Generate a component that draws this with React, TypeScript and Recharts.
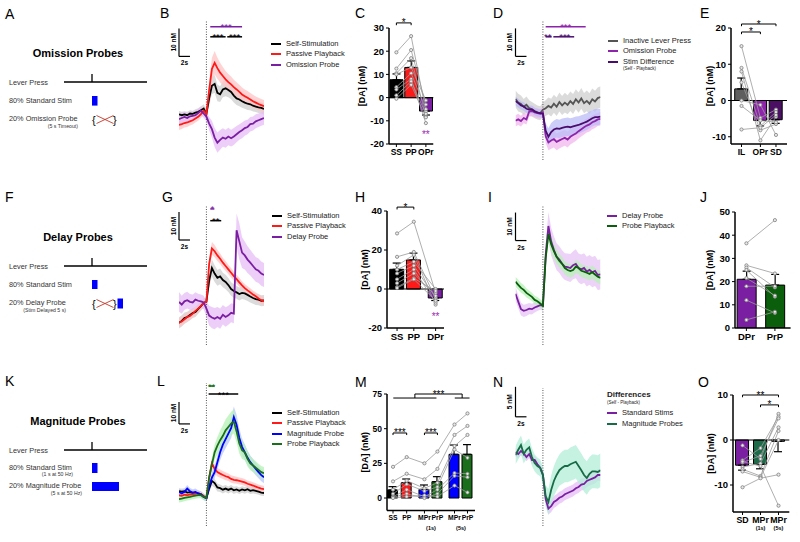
import React from "react";
import {
  Area,
  Bar,
  Cell,
  ComposedChart,
  ErrorBar,
  Legend,
  Line,
  ReferenceDot,
  ReferenceLine,
  XAxis,
  YAxis,
} from "recharts";

const FONT = "'Liberation Sans', Arial, Helvetica, sans-serif";

// time from lever press (s), shared by every photometry trace
const time = [-5, -4.5, -4, -3.5, -3, -2.5, -2, -1.5, -1, -0.5, 0, 0.5, 1, 1.5, 2, 2.5, 3, 3.5, 4, 4.5, 5, 5.5, 6, 6.5, 7, 7.5, 8, 8.5, 9, 9.5, 10, 10.5];

// B - omission probes (nM)
const bSelf = [0.3, 0, 0.3, 0, 0.6, 0.5, 0.9, 1.2, 1.8, 2.4, 0.5, 6, 10.5, 11.2, 8, 7.5, 9.2, 9.6, 9, 8.3, 7, 6, 5.6, 5, 4.5, 4.1, 3.9, 3.4, 3.1, 2.8, 2.6, 2.2];
const bSelfSem = [1.2, 1.2, 1.1, 1.2, 1.2, 1.1, 1.2, 1.3, 1.4, 1.5, 1.5, 2.5, 3, 3.2, 3, 2.8, 2.8, 2.8, 2.6, 2.6, 2.5, 2.4, 2.4, 2.3, 2.2, 2.2, 2.1, 2.1, 2, 2, 2, 2];
const bPass = [-3.5, -3.2, -2.8, -2.6, -2.2, -1.8, -1.2, -0.6, 0.4, 1.6, 0.5, 9, 16.5, 18.7, 16.8, 15.2, 14, 12.8, 11.8, 11, 10, 9.2, 8.3, 7.4, 6.8, 6.2, 5.6, 5, 4.5, 4, 3.6, 3.2];
const bPassSem = [1.8, 1.7, 1.6, 1.6, 1.5, 1.5, 1.4, 1.4, 1.4, 1.5, 1.6, 3, 4, 4.2, 3.8, 3.5, 3.2, 3, 2.9, 2.8, 2.7, 2.6, 2.6, 2.5, 2.4, 2.4, 2.3, 2.3, 2.2, 2.2, 2.2, 2.2];
const bOmit = [-1.4, -1, -0.6, -1, -0.4, -0.2, 0, 0.8, 1.6, 0.6, -0.5, -3, -5, -8, -9.8, -8.8, -8, -8.4, -7.6, -8.2, -7.6, -6.8, -6, -5.4, -4.6, -4.2, -3.2, -3, -2.2, -1.8, -1.4, -1];
const bOmitSem = [1.8, 1.8, 1.7, 1.7, 1.6, 1.6, 1.5, 1.5, 1.5, 1.5, 1.6, 2.4, 3, 3.4, 3.6, 3.5, 3.3, 3.2, 3.1, 3, 3, 2.9, 2.8, 2.8, 2.7, 2.6, 2.6, 2.5, 2.5, 2.4, 2.4, 2.4];

// D - inactive lever / omission / stim difference
const dInact = [5.3, 4, 3.5, 2.5, 3.2, 2, 1.6, 1, 0.5, 0.2, 1.5, 2, 2.8, 2.2, 3.6, 2.5, 4.2, 3, 4, 3.2, 4.5, 3.5, 5.2, 4, 5.5, 3.8, 4.6, 3.6, 5.2, 4.4, 5.6, 6];
const dInactSem = [3, 3.2, 3, 2.8, 3, 2.8, 2.6, 2.6, 2.5, 2.5, 2.6, 2.8, 3, 3.2, 3.2, 3.3, 3.4, 3.4, 3.5, 3.4, 3.5, 3.6, 3.6, 3.6, 3.7, 3.6, 3.7, 3.7, 3.8, 3.8, 3.8, 3.8];
const dOmit = [-2.5, -2, -2.6, -1.5, -2, 0.8, 1, 0.5, 0.2, 0, 0.5, -8, -10.2, -9.5, -9, -10, -9.5, -9, -8.6, -9.2, -8.2, -7.6, -7, -6.2, -5.5, -4.8, -4.2, -3.8, -3, -2.6, -2, -1.8];
const dOmitSem = [2, 2, 1.9, 1.9, 1.8, 1.8, 1.8, 1.7, 1.7, 1.7, 1.8, 2.4, 2.8, 3, 3, 3, 2.9, 2.9, 2.8, 2.8, 2.8, 2.7, 2.7, 2.6, 2.6, 2.6, 2.5, 2.5, 2.5, 2.5, 2.4, 2.4];
const dDiff = [4.6, 3.8, 3, 2.6, 1.8, 1.5, 1.6, 0.8, 0.4, 0.2, 0, -6, -8.2, -6.5, -5.6, -5.2, -5.4, -5, -4.8, -4.6, -4.8, -4.5, -4.2, -4, -3.6, -3.2, -2.8, -2.2, -1.6, -1.2, -1.2, -1];
const dDiffSem = [1.6, 1.6, 1.5, 1.5, 1.5, 1.5, 1.4, 1.4, 1.4, 1.4, 1.5, 2.6, 3, 3.2, 3.2, 3.3, 3.3, 3.3, 3.3, 3.3, 3.2, 3.2, 3.2, 3.1, 3.1, 3, 3, 3, 2.9, 2.9, 2.9, 2.8];

// G - delay probes
const gSelf = [-7.1, -6.4, -5.4, -5, -4.3, -3.6, -3.2, -2.1, -1.1, 0, 0.5, 8, 12.5, 10.5, 9, 9.5, 8.2, 7.5, 6.4, 5, 4.3, 3.8, 3.2, 3.6, 3.4, 2.9, 2.3, 1.8, 1.4, 1.2, 0.8, 0.9];
const gSelfSem = [2, 2, 2, 1.9, 1.9, 1.8, 1.8, 1.7, 1.7, 1.6, 1.6, 2.5, 3, 3, 2.8, 2.8, 2.6, 2.6, 2.5, 2.4, 2.4, 2.3, 2.3, 2.2, 2.2, 2.2, 2.1, 2.1, 2.1, 2, 2, 2];
const gPass = [-7, -6.6, -5.8, -5, -4.6, -3.8, -2.8, -2, -1, 0, 0.5, 14, 19.5, 18.5, 17, 15.8, 14.4, 13.2, 12, 10.8, 9.6, 8.5, 7.4, 6.3, 5.3, 4.5, 3.8, 3, 2.4, 1.6, 1, 0.6];
const gPassSem = [1.6, 1.6, 1.5, 1.5, 1.5, 1.4, 1.4, 1.4, 1.3, 1.3, 1.4, 2, 2.3, 2.2, 2, 1.9, 1.8, 1.8, 1.7, 1.7, 1.6, 1.6, 1.6, 1.5, 1.5, 1.5, 1.5, 1.5, 1.4, 1.4, 1.4, 1.4];
const gDelay = [0.4, -0.6, 0.6, 1, 0.4, 0.2, 1.2, 0.8, 0.6, 0.2, -2, -4.5, -5.2, -5.6, -5, -5.6, -4.2, -5, -4.4, -3.5, -3.8, 26, 22, 18, 17, 15.5, 14.4, 13.2, 12, 11.5, 10.5, 10];
const gDelaySem = [3.5, 3.2, 3, 3, 2.8, 2.8, 2.6, 2.5, 2.4, 2.4, 2.8, 3.5, 3.8, 3.8, 3.6, 3.6, 3.5, 3.5, 3.4, 3.4, 3.4, 6, 6.5, 5.5, 5, 4.8, 4.6, 4.5, 4.4, 4.4, 4.3, 4.3];

// I - delay probe vs probe playback
const iDelay = [4.3, 1.5, -1.2, -1.8, -1.5, -1, -1.2, -0.6, -0.2, 0.2, 0, 18, 28.5, 23, 20, 17.5, 16.5, 15, 14, 13.8, 13.5, 14.5, 15, 13.5, 13, 13.5, 12.2, 12.8, 12, 12.5, 11, 11.2];
const iDelaySem = [2.5, 2.4, 2.3, 2.2, 2.1, 2, 1.9, 1.8, 1.7, 1.6, 1.8, 4, 5, 5, 4.8, 4.8, 4.8, 4.8, 4.8, 4.9, 5, 5, 5.2, 5.2, 5.3, 5.3, 5.3, 5.3, 5.4, 5.4, 5.4, 5.4];
const iPlay = [8.6, 7.5, 6.4, 5.7, 4.6, 3.9, 3.2, 2.1, 1.6, 0.8, 0, 17, 25.7, 22, 19.5, 17.5, 16, 15, 13.5, 12.8, 12.4, 12.8, 14, 13.5, 12.5, 12.2, 11.8, 11.4, 12, 11.2, 10.4, 10];
const iPlaySem = [1.8, 1.8, 1.7, 1.7, 1.6, 1.6, 1.5, 1.5, 1.5, 1.5, 1.6, 2.5, 3, 2.8, 2.6, 2.5, 2.4, 2.4, 2.3, 2.3, 2.3, 2.3, 2.3, 2.3, 2.3, 2.3, 2.3, 2.3, 2.3, 2.3, 2.3, 2.3];

// L - magnitude probes
const lSelf = [1.8, 1.6, 1.8, 1.2, 1.4, 1, 1.2, 0.8, 0.5, -0.5, -1.3, 3, 6.5, 5.5, 3.5, 3.2, 2.5, 3, 2.4, 3, 2.2, 2.6, 2, 2.6, 2.2, 2.7, 2, 2.3, 2, 1.6, 1.2, 1];
const lSelfSem = [1.4, 1.4, 1.4, 1.3, 1.3, 1.3, 1.3, 1.2, 1.2, 1.2, 1.2, 1.8, 2.2, 2, 1.8, 1.7, 1.7, 1.6, 1.6, 1.6, 1.6, 1.5, 1.5, 1.5, 1.5, 1.5, 1.5, 1.5, 1.4, 1.4, 1.4, 1.4];
const lPass = [0, -0.3, 0.2, 0, 0.3, 0.5, 0.6, 0.8, 0.5, -0.5, -1.2, 8, 14.5, 12, 10.5, 9.8, 9.2, 8.6, 8.2, 7.4, 7, 6.8, 6.5, 6.2, 5.8, 5.2, 4.8, 4.4, 3.9, 3.4, 3, 2.8];
const lPassSem = [1.4, 1.4, 1.3, 1.3, 1.3, 1.3, 1.2, 1.2, 1.2, 1.2, 1.2, 2, 2.4, 2.2, 2, 1.9, 1.8, 1.8, 1.7, 1.7, 1.7, 1.6, 1.6, 1.6, 1.6, 1.5, 1.5, 1.5, 1.5, 1.5, 1.5, 1.5];
const lMag = [1.4, 0.8, 1.5, 3, 1.8, 1.2, 1.5, 0.8, 0.3, -0.8, -1.4, 4, 8, 10.5, 15, 19.5, 23, 25.5, 28, 30.5, 35.5, 32, 26, 22, 19.5, 17, 15, 13.5, 12, 10.5, 9.1, 8.2];
const lMagSem = [1.6, 1.6, 1.6, 1.6, 1.5, 1.5, 1.5, 1.5, 1.5, 1.5, 1.5, 2, 2.4, 2.8, 3.2, 3.6, 4, 4.2, 4.4, 4.6, 4.8, 4.6, 4.2, 3.8, 3.5, 3.3, 3.1, 3, 2.9, 2.8, 2.8, 2.8];
const lPlay = [-1.8, -1.6, -1.2, -1, -0.8, -0.4, -0.2, 0, 0, -0.8, -1.3, 8, 14, 19.5, 22.5, 25, 27, 29.5, 31, 32.5, 33.5, 29, 23.5, 20.5, 19.5, 16.5, 14.5, 13.5, 12.5, 11.5, 10.5, 10];
const lPlaySem = [1.5, 1.5, 1.5, 1.4, 1.4, 1.4, 1.4, 1.4, 1.4, 1.4, 1.5, 2.5, 3, 3.5, 4, 4.4, 4.8, 5, 5.2, 5.4, 5.5, 5, 4.5, 4, 3.6, 3.4, 3.2, 3, 2.9, 2.8, 2.8, 2.8];

// N - differences (self - playback)
const nStd = [3.8, 3.5, 4, 3.6, 3, 3.5, 2.5, 2.5, 1.8, 1.2, 0, -4, -5.6, -5.2, -4.5, -4.2, -3.8, -3.6, -3.2, -3, -2.8, -2.6, -2.2, -2, -1.6, -1.5, -1, -0.8, -0.6, -0.4, 0, 0];
const nStdSem = [0.7, 0.7, 0.7, 0.7, 0.7, 0.7, 0.7, 0.7, 0.7, 0.7, 0.7, 0.9, 1, 1, 1, 1, 1, 1, 1, 1, 1, 1, 1, 1, 1, 1, 1, 1, 1, 1, 1, 1];
const nMag = [3.3, 4.2, 5, 3.5, 4.2, 4.6, 3, 2, 1.5, 1.2, 0, -3.5, -4.5, -2.5, -1, 0, 0.8, 1.2, 1.5, 1.5, 1.8, 2, 2.2, 1.5, 0.8, 0, -0.5, 0.2, 0.6, 0.6, 0.5, 0.8];
const nMagSem = [1.5, 1.6, 1.6, 1.6, 1.5, 1.5, 1.5, 1.4, 1.4, 1.4, 1.4, 1.8, 2.2, 2.4, 2.5, 2.6, 2.6, 2.7, 2.7, 2.7, 2.8, 2.8, 2.8, 2.8, 2.8, 2.8, 2.8, 2.8, 2.8, 2.8, 2.8, 2.8];

// C
const cCats = ["SS", "PP", "OPr"];
const cX = [0, 1, 2];
const cMean = [7.7, 13, -5.8];
const cSem = [2.5, 2.8, 1.7];
const cSubjects = [[19.5, 26.5, -6], [12.5, 20.5, -3], [10.5, 17, -8.2], [10, 13, -1.2], [4.5, 10.5, -5], [3.5, 8, -11], [1, 7, -7], [-0.5, 5.5, -8.5]];
// E
const eCats = ["IL", "OPr", "SD"];
const eX = [0, 1.08, 1.97];
const eMean = [3.2, -5.5, -5.3];
const eSem = [3, 1.5, 1];
const eSubjects = [[15, -4.8, -2.5], [9, -7, -3.2], [8, -11, -4.5], [5, -8.2, -6.5], [0, -1.2, -9.5], [-1.5, -5.5, -6], [-8, -7.5, -4]];
// H
const hCats = ["SS", "PP", "DPr"];
const hX = [0, 1, 2.3];
const hMean = [10.1, 14.9, -4.6];
const hSem = [3.2, 3.5, 1.3];
const hSubjects = [[28.5, 34.5, -2], [16.5, 19, -5], [12, 17.5, -8], [10, 14, 0], [8, 12, -4.5], [5, 10, -7], [3, 8, -3.5], [1, 5.5, -1], [0.5, 5, -6]];
// J
const jCats = ["DPr", "PrP"];
const jX = [0, 1];
const jMean = [21, 18.5];
const jSem = [3.5, 4.6];
const jSubjects = [[36.5, 46.5], [27, 23.5], [26, 17.5], [25, 13.5], [21.5, 14], [18, 18], [12, 6.5], [3.5, 7]];
// M
const mCats = ["SS", "PP", "MPr", "PrP", "MPr", "PrP"];
const mSubs = ["", "", "(1s)", "", "(5s)", ""];
const mX = [0, 1, 2.3, 3.25, 4.5, 5.45];
const mMean = [5.8, 11, 6.2, 11.8, 31.5, 31.5];
const mSem = [2.4, 2.7, 3.2, 3.6, 6.7, 7];
const mSubjects = [[22.5, 29.5, 25, 33.5, 53, 61], [12, 17.5, 13.5, 21, 45.5, 52], [6, 12.5, 7, 11, 37.5, 45.5], [3, 10, 5, 8, 35, 29], [1, 6, 1, 6, 18, 17.5], [0.5, 3, 0, 3, 16, 15], [0, 1, 2, 1, 9, 4]];
// O
const oCats = ["SD", "MPr", "MPr"];
const oSubs = ["", "(1s)", "(5s)"];
const oX = [0, 1, 2];
const oMean = [-5.6, -5.4, -0.3];
const oSem = [1.1, 1, 2.3];
const oSubjects = [[-1.2, -4.2, 5.8], [-4.5, -1.8, 5.2], [-5, -3.5, 4.8], [-6, -5.2, 2.8], [-6.5, -8, 2], [-7, -8.3, 0], [-10.5, -8.5, -7.7], [-4.8, -5.8, -14.6]];

const PURPLE = "#7b1fa2";
const RED = "#ff1a1a";

const SegLabel = (props: any) => {
  const { viewBox, text, dx = 0, dy = 0, size = 9, tint = "#000", weight = "normal", rotate = false } = props;
  if (!viewBox) return null;
  const cx = viewBox.x + (viewBox.width || 0) / 2 + dx;
  const cy = viewBox.y + (viewBox.height || 0) / 2 + dy;
  return (
    <text
      x={cx}
      y={cy}
      textAnchor="middle"
      fontSize={size}
      fontWeight={weight}
      fill={tint}
      fontFamily={FONT}
      transform={rotate ? `rotate(-90 ${cx} ${cy})` : undefined}
    >
      {text}
    </text>
  );
};

const TraceLegend = ({ payload = [], order = [], title, note, subs = {} }: any) => {
  // keep only the mean traces, in the order they were declared
  const items = order.map((name: string) => payload.find((p: any) => p.value === name)).filter(Boolean);
  return (
    <div style={{ fontFamily: FONT, fontSize: 7.5, color: "#222", lineHeight: "10.5px" }}>
      {title && <div style={{ fontWeight: "bold", fontSize: 8, lineHeight: "8px" }}>{title}</div>}
      {note && <div style={{ fontSize: 4.5, lineHeight: "7px", marginBottom: 2 }}>{note}</div>}
      {items.map((p: any) => (
        <div key={p.value}>
          <div style={{ display: "flex", alignItems: "center", height: 10.5 }}>
            <span style={{ display: "inline-block", width: 10, height: 2, background: p.color, marginRight: 5 }} />
            <span style={{ whiteSpace: "nowrap" }}>{p.value}</span>
          </div>
          {subs[p.value] && <div style={{ fontSize: 4.5, lineHeight: "4px", marginLeft: 15 }}>{subs[p.value]}</div>}
        </div>
      ))}
    </div>
  );
};

const TracePanel = (p: any) => {
  const rows = time.map((t, i) => {
    const row: any = { t };
    p.series.forEach((s: any) => {
      row[s.key] = s.mean[i];
      row[s.key + "Band"] = [s.mean[i] - s.sem[i], s.mean[i] + s.sem[i]];
    });
    return row;
  });
  const sb = p.scaleBar;
  const order = p.series.map((s: any) => s.name);
  return (
    <div style={{ position: "absolute", left: p.left, top: p.top }}>
      <ComposedChart width={p.width} height={p.height} data={rows} margin={p.margin}>
        <XAxis type="number" dataKey="t" domain={[-5, 10.5]} hide allowDataOverflow />
        <YAxis type="number" domain={p.domain} hide allowDataOverflow />
        {p.series.map((s: any) => (
          <Area
            key={s.key + "Band"}
            type="linear"
            dataKey={s.key + "Band"}
            stroke="none"
            fill={s.band}
            fillOpacity={0.75}
            isAnimationActive={false}
            legendType="none"
            activeDot={false}
            dot={false}
          />
        ))}
        <ReferenceLine x={0} stroke="#555" strokeWidth={1} strokeDasharray="1 1.5" ifOverflow="visible" />
        {p.series.map((s: any) => (
          <Line
            key={s.key}
            type="linear"
            dataKey={s.key}
            name={s.name}
            stroke={s.color}
            strokeWidth={1.8}
            dot={false}
            activeDot={false}
            isAnimationActive={false}
            legendType="plainline"
          />
        ))}
        <ReferenceLine
          segment={[{ x: -5, y: sb.y }, { x: -5, y: sb.y + sb.len }]}
          stroke="#000"
          strokeWidth={1.2}
          ifOverflow="visible"
          label={<SegLabel text={sb.label} rotate dx={-3} size={6.5} weight="bold" />}
        />
        <ReferenceLine
          segment={[{ x: -5, y: sb.y }, { x: -3, y: sb.y }]}
          stroke="#000"
          strokeWidth={1.2}
          ifOverflow="visible"
          label={<SegLabel text="2s" dy={9} size={6.5} weight="bold" />}
        />
        {p.sig.map((g: any, i: number) => (
          <ReferenceLine
            key={"sig" + i}
            segment={[{ x: g.x1, y: g.y }, { x: g.x2, y: g.y }]}
            stroke={g.color}
            strokeWidth={1.5}
            ifOverflow="visible"
            label={<SegLabel text={g.text} dx={g.dx || 0} dy={3.5} size={9.5} tint={g.color} />}
          />
        ))}
        <Legend
          layout="vertical"
          align="center"
          verticalAlign="middle"
          wrapperStyle={{ left: p.legend.left, top: p.legend.top, width: 140, height: "auto" }}
          content={(lp: any) => (
            <TraceLegend payload={lp.payload} order={order} title={p.legend.title} note={p.legend.note} subs={p.legend.subs || {}} />
          )}
        />
      </ComposedChart>
    </div>
  );
};

const CatTick = (props: any) => {
  const { x, y, payload, xs, labels, subs, size, subSize = 5.5, subDx = 0, subDy = 14 } = props;
  const i = xs.indexOf(payload.value);
  return (
    <g>
      <text x={x} y={y + size * 0.85} textAnchor="middle" fontSize={size} fontWeight="bold" fontFamily={FONT} fill="#000">
        {labels[i]}
      </text>
      {subs && subs[i] ? (
        <text x={x + subDx} y={y + subDy} textAnchor="middle" fontSize={subSize} fontWeight="bold" fontFamily={FONT} fill="#000">
          {subs[i]}
        </text>
      ) : null}
    </g>
  );
};

const AxisTitle = (props: any) => {
  const { viewBox, shift } = props;
  if (!viewBox) return null;
  const cx = viewBox.x + shift;
  const cy = viewBox.y + viewBox.height / 2;
  return (
    <text
      x={cx}
      y={cy}
      transform={`rotate(-90 ${cx} ${cy})`}
      textAnchor="middle"
      dominantBaseline="central"
      fontSize={9}
      fontWeight="bold"
      fontFamily={FONT}
      fill="#000"
    >
      [DA] (nM)
    </text>
  );
};

const BarPanel = (p: any) => {
  const rows = p.xs.map((x: number, i: number) => {
    const row: any = { x, mean: p.means[i], err: p.means[i] >= 0 ? [0, p.sems[i]] : [p.sems[i], 0] };
    p.subjects.forEach((s: number[], k: number) => {
      row["s" + k] = s[i];
    });
    return row;
  });
  return (
    <div style={{ position: "absolute", left: p.left, top: p.top }}>
      <ComposedChart width={p.width} height={p.height} data={rows} margin={p.margin}>
        <XAxis
          type="number"
          dataKey="x"
          domain={p.xDomain}
          ticks={p.xs}
          interval={0}
          allowDataOverflow
          height={p.xAxisHeight}
          axisLine={{ stroke: "#000", strokeWidth: 1.5 }}
          tickLine={{ stroke: "#000", strokeWidth: 1 }}
          tickSize={3}
          tickMargin={1}
          tick={<CatTick xs={p.xs} labels={p.cats} subs={p.subs} size={p.catSize} subDx={p.subDx} subDy={p.subDy} />}
        />
        <YAxis
          type="number"
          domain={p.yDomain}
          ticks={p.yTicks}
          interval={0}
          allowDataOverflow
          width={40}
          axisLine={{ stroke: "#000", strokeWidth: 1.5 }}
          tickLine={{ stroke: "#000", strokeWidth: 1 }}
          tickSize={3}
          tick={{ fontSize: p.tickSize, fontWeight: "bold", fill: "#000", fontFamily: FONT }}
          label={<AxisTitle shift={p.titleShift} />}
        />
        {p.zeroLine && <ReferenceLine y={0} stroke="#000" strokeWidth={1.2} />}
        <Bar dataKey="mean" barSize={p.barSize} stroke="#000" strokeWidth={1} isAnimationActive={false}>
          {rows.map((r: any, i: number) => (
            <Cell key={i} fill={p.colors[i]} />
          ))}
          <ErrorBar dataKey="err" direction="y" width={4} stroke="#000" strokeWidth={1.2} />
        </Bar>
        {p.subjects.map((s: number[], k: number) => (
          <Line
            key={"s" + k}
            type="linear"
            dataKey={"s" + k}
            stroke="#9a9a9a"
            strokeWidth={0.8}
            dot={{ r: 1.6, fill: "#e8e8e8", stroke: "#808080", strokeWidth: 0.8 }}
            activeDot={false}
            isAnimationActive={false}
            legendType="none"
          />
        ))}
        {p.brackets.map((b: any, i: number) => [
          <ReferenceLine
            key={"bh" + i}
            segment={[{ x: b.x1, y: b.y }, { x: b.x2, y: b.y }]}
            stroke="#000"
            strokeWidth={1}
            ifOverflow="visible"
            label={b.text ? <SegLabel text={b.text} dy={3.5} size={10} tint="#000" /> : undefined}
          />,
          b.drop ? (
            <ReferenceLine key={"bl" + i} segment={[{ x: b.x1, y: b.y }, { x: b.x1, y: b.y - b.drop }]} stroke="#000" strokeWidth={1} ifOverflow="visible" />
          ) : null,
          b.drop ? (
            <ReferenceLine key={"br" + i} segment={[{ x: b.x2, y: b.y }, { x: b.x2, y: b.y - b.drop }]} stroke="#000" strokeWidth={1} ifOverflow="visible" />
          ) : null,
        ])}
        {(p.stars || []).map((s: any, i: number) => (
          <ReferenceDot
            key={"st" + i}
            x={s.x}
            y={s.y}
            r={0}
            fill="none"
            stroke="none"
            ifOverflow="visible"
            label={<SegLabel text={s.text} dy={5} size={10} tint={s.color} />}
          />
        ))}
      </ComposedChart>
    </div>
  );
};

const Protocol = ({ lever, title, stimY, stimRect, stimNote, probeY, probeText, noteText, noteRight, kind }: any) => {
  const top = probeY - 7;
  const bot = probeY + 4;
  return (
    <g fontFamily={FONT}>
      <text x={78} y={lever - 25} textAnchor="middle" fontSize={11} fontWeight="bold" fill="#000">
        {title}
      </text>
      <text x={9} y={lever + 2.5} fontSize={7.3} fill="#333">
        Lever Press
      </text>
      <line x1={64} x2={147} y1={lever} y2={lever} stroke="#000" strokeWidth={1.3} />
      <line x1={92} x2={92} y1={lever - 8} y2={lever} stroke="#000" strokeWidth={1.3} />
      <text x={9} y={stimY} fontSize={7.3} fill="#333">
        80% Standard Stim
      </text>
      {stimNote && (
        <text x={73} y={stimY + 6} fontSize={5.2} textAnchor="end" fill="#333">
          {stimNote}
        </text>
      )}
      <rect x={92} y={stimRect[0]} width={5.5} height={stimRect[1]} fill="#0000ff" />
      <text x={9} y={probeY} fontSize={7.3} fill="#333">
        {probeText}
      </text>
      <text x={noteRight} y={probeY + 6.5} fontSize={5.2} textAnchor="end" fill="#333">
        {noteText}
      </text>
      {kind === "magnitude" ? (
        <rect x={92} y={probeY - 6} width={27} height={9} fill="#0000ff" />
      ) : (
        <g>
          <text x={92} y={probeY + 3} fontSize={11} fill="#000">
            {"{"}
          </text>
          <text x={113} y={probeY + 3} fontSize={11} fill="#000">
            {"}"}
          </text>
          <line x1={96.5} y1={top + 1.5} x2={113.5} y2={bot - 1.5} stroke="#c0392b" strokeWidth={0.9} />
          <line x1={96.5} y1={bot - 1.5} x2={113.5} y2={top + 1.5} stroke="#c0392b" strokeWidth={0.9} />
          {kind === "delay" && <rect x={117.5} y={top + 0.5} width={5.5} height={10} fill="#0000ff" />}
        </g>
      )}
    </g>
  );
};

const letters = [
  ["A", 5, 19], ["B", 160, 18], ["C", 355, 18], ["D", 493, 18], ["E", 700, 18],
  ["F", 5, 202], ["G", 162, 202], ["H", 355, 202], ["I", 488, 202], ["J", 700, 202],
  ["K", 5, 386], ["L", 157, 386], ["M", 355, 387], ["N", 493, 387], ["O", 698, 387],
];

const traceMargin = (top: number, bottom: number, left: number, right: number) => ({ top, bottom, left, right });

export default function App() {
  return (
    <div style={{ position: "absolute", left: 0, top: 0, width: 800, height: 542, background: "#fff", overflow: "hidden", fontFamily: FONT }}>
      <svg width={800} height={542} style={{ position: "absolute", left: 0, top: 0 }}>
        {letters.map(([t, x, y]: any) => (
          <text key={t} x={x} y={y} fontSize={14} fontFamily={FONT} fill="#000">
            {t}
          </text>
        ))}
        <Protocol lever={82} title="Omission Probes" stimY={103} stimRect={[96, 9.6]} probeY={121} probeText="20% Omission Probe" noteText="(5 s Timeout)" noteRight={78} kind="omission" />
        <Protocol lever={266} title="Delay Probes" stimY={287} stimRect={[280, 9]} probeY={305} probeText="20% Delay Probe" noteText="(Stim Delayed 5 s)" noteRight={66} kind="delay" />
        <Protocol lever={450} title="Magnitude Probes" stimY={470} stimRect={[463, 10]} stimNote="(1 s at 50 Hz)" probeY={488} probeText="20% Magnitude Probe" noteText="(5 s at 50 Hz)" noteRight={82} kind="magnitude" />
      </svg>

      {/* B */}
      <TracePanel
        left={150} top={0} width={240} height={175}
        margin={traceMargin(20, 15, 29, 126)}
        domain={[-16, 34]}
        series={[
          { key: "ss", name: "Self-Stimulation", color: "#000", band: "#cfcfcf", mean: bSelf, sem: bSelfSem },
          { key: "pp", name: "Passive Playback", color: RED, band: "#ffc4c4", mean: bPass, sem: bPassSem },
          { key: "op", name: "Omission Probe", color: PURPLE, band: "#e7bdf5", mean: bOmit, sem: bOmitSem },
        ]}
        scaleBar={{ y: 21, len: 10, label: "10 nM" }}
        sig={[
          { x1: 0.7, x2: 6.5, y: 31.6, text: "***", color: PURPLE },
          { x1: 0.7, x2: 3.5, y: 28, text: "***", color: "#000" },
          { x1: 3.8, x2: 6.5, y: 28, text: "***", color: "#000" },
        ]}
        legend={{ left: 121, top: 38.5 }}
      />
      {/* D */}
      <TracePanel
        left={490} top={0} width={210} height={175}
        margin={traceMargin(20, 15, 25.5, 99.5)}
        domain={[-16.5, 33.5]}
        series={[
          { key: "il", name: "Inactive Lever Press", color: "#555", band: "#cfcfcf", mean: dInact, sem: dInactSem },
          { key: "op", name: "Omission Probe", color: "#8e24aa", band: "#f2b8ee", mean: dOmit, sem: dOmitSem },
          { key: "sd", name: "Stim Difference", color: "#4a0d6e", band: "#bcbcf7", mean: dDiff, sem: dDiffSem },
        ]}
        scaleBar={{ y: 20.5, len: 10, label: "10 nM" }}
        sig={[
          { x1: 0.5, x2: 7.8, y: 31.1, text: "***", color: "#8e24aa" },
          { x1: 0.5, x2: 1.6, y: 27.5, text: "**", color: "#4a0d6e", dx: -1 },
          { x1: 1.9, x2: 5.7, y: 27.5, text: "***", color: "#4a0d6e", dx: 1 },
        ]}
        legend={{ left: 118, top: 35.5, subs: { "Stim Difference": "(Self - Playback)" } }}
      />
      {/* G */}
      <TracePanel
        left={150} top={175} width={240} height={175}
        margin={traceMargin(30, 5, 29, 126)}
        domain={[-15, 35]}
        series={[
          { key: "ss", name: "Self-Stimulation", color: "#000", band: "#cfcfcf", mean: gSelf, sem: gSelfSem },
          { key: "pp", name: "Passive Playback", color: RED, band: "#ffc4c4", mean: gPass, sem: gPassSem },
          { key: "dp", name: "Delay Probe", color: PURPLE, band: "#e7bdf5", mean: gDelay, sem: gDelaySem },
        ]}
        scaleBar={{ y: 22.5, len: 10, label: "10 nM" }}
        sig={[
          { x1: 0.7, x2: 1.45, y: 33.6, text: "*", color: PURPLE },
          { x1: 0.7, x2: 2.7, y: 29.4, text: "**", color: "#000" },
        ]}
        legend={{ left: 122, top: 35.5 }}
      />
      {/* I */}
      <TracePanel
        left={490} top={175} width={210} height={175}
        margin={traceMargin(30, 5, 25.5, 99.5)}
        domain={[-14, 36]}
        series={[
          { key: "dp", name: "Delay Probe", color: PURPLE, band: "#e7c4f5", mean: iDelay, sem: iDelaySem },
          { key: "pb", name: "Probe Playback", color: "#0b5e0b", band: "#b5f2b5", mean: iPlay, sem: iPlaySem },
        ]}
        scaleBar={{ y: 23.3, len: 10, label: "10 nM" }}
        sig={[]}
        legend={{ left: 117, top: 35.5 }}
      />
      {/* L */}
      <TracePanel
        left={150} top={355} width={240} height={187}
        margin={traceMargin(28, 16, 29, 126)}
        domain={[-14, 51]}
        series={[
          { key: "ss", name: "Self-Stimulation", color: "#000", band: "#cfcfcf", mean: lSelf, sem: lSelfSem },
          { key: "pp", name: "Passive Playback", color: RED, band: "#ffc4c4", mean: lPass, sem: lPassSem },
          { key: "mp", name: "Magnitude Probe", color: "#0000ff", band: "#b9c6ff", mean: lMag, sem: lMagSem },
          { key: "pb", name: "Probe Playback", color: "#1b6e1b", band: "#b5f2b5", mean: lPlay, sem: lPlaySem },
        ]}
        scaleBar={{ y: 32.4, len: 10, label: "10 nM" }}
        sig={[
          { x1: 0.4, x2: 1.5, y: 49.6, text: "**", color: "#1b6e1b" },
          { x1: 0.4, x2: 5.8, y: 46, text: "***", color: "#000" },
        ]}
        legend={{ left: 122, top: 52.5 }}
      />
      {/* N */}
      <TracePanel
        left={490} top={355} width={210} height={187}
        margin={traceMargin(33, 16, 25.5, 99.5)}
        domain={[-8.5, 14.5]}
        series={[
          { key: "st", name: "Standard Stims", color: PURPLE, band: "#e7bdf5", mean: nStd, sem: nStdSem },
          { key: "mg", name: "Magnitude Probes", color: "#176b45", band: "#b3eed8", mean: nMag, sem: nMagSem },
        ]}
        scaleBar={{ y: 9.7, len: 5, label: "5 nM" }}
        sig={[]}
        legend={{ left: 117, top: 36, title: "Differences", note: "(Self - Playback)" }}
      />

      {/* C */}
      <BarPanel
        left={330} top={0} width={120} height={175}
        margin={{ top: 28, right: 16.75, bottom: 0, left: 19 }}
        xAxisHeight={31}
        xs={cX} cats={cCats} xDomain={[-0.5, 2.5]}
        yDomain={[-20, 30]} yTicks={[-20, -10, 0, 10, 20, 30]}
        means={cMean} sems={cSem} subjects={cSubjects}
        colors={["#000000", RED, PURPLE]}
        barSize={13} catSize={8.5} tickSize={9.5} titleShift={12.7} zeroLine
        brackets={[{ x1: 0, x2: 1, y: 32.2, drop: 1, text: "*" }]}
        stars={[{ x: 2, y: -15.3, text: "**", color: "#9c27b0" }]}
      />
      {/* E */}
      <BarPanel
        left={650} top={0} width={150} height={175}
        margin={{ top: 28, right: 13, bottom: 0, left: 41 }}
        xAxisHeight={31}
        xs={eX} cats={eCats} xDomain={[-0.6, 2.6]}
        yDomain={[-12, 20]} yTicks={[-10, 0, 10, 20]}
        means={eMean} sems={eSem} subjects={eSubjects}
        colors={["#5f5f5f", "#8e24aa", "#4b1064"]}
        barSize={13} catSize={8.5} tickSize={9.5} titleShift={19} zeroLine
        brackets={[
          { x1: 0, x2: 1.08, y: 18.9, drop: 0.6, text: "*" },
          { x1: 0, x2: 1.97, y: 21.1, drop: 0.6, text: "*" },
        ]}
      />
      {/* H */}
      <BarPanel
        left={330} top={175} width={120} height={175}
        margin={{ top: 36, right: 6, bottom: 0, left: 17 }}
        xAxisHeight={22}
        xs={hX} cats={hCats} xDomain={[-0.6, 2.8]}
        yDomain={[-20, 40]} yTicks={[-20, 0, 20, 40]}
        means={hMean} sems={hSem} subjects={hSubjects}
        colors={["#000000", RED, PURPLE]}
        barSize={14} catSize={9.5} tickSize={9.5} titleShift={18} zeroLine
        brackets={[{ x1: 0, x2: 1, y: 42, drop: 1.2, text: "*" }]}
        stars={[{ x: 2.3, y: -13.3, text: "**", color: "#9c27b0" }]}
      />
      {/* J */}
      <BarPanel
        left={650} top={175} width={150} height={175}
        margin={{ top: 37, right: 9.4, bottom: 0, left: 45 }}
        xAxisHeight={22}
        xs={jX} cats={jCats} xDomain={[-0.4, 1.55]}
        yDomain={[0, 50]} yTicks={[0, 10, 20, 30, 40, 50]}
        means={jMean} sems={jSem} subjects={jSubjects}
        colors={[PURPLE, "#0b5e0b"]}
        barSize={19} catSize={9.5} tickSize={9.5} titleShift={15}
        brackets={[]}
      />
      {/* M */}
      <BarPanel
        left={330} top={355} width={150} height={187}
        margin={{ top: 39, right: 5, bottom: 0, left: 17 }}
        xAxisHeight={31.5}
        xs={mX} cats={mCats} subs={mSubs} subDx={6.5} subDy={15}
        xDomain={[-0.44, 6]}
        yDomain={[-9, 75]} yTicks={[0, 25, 50, 75]}
        means={mMean} sems={mSem} subjects={mSubjects}
        colors={["#000000", RED, "#0000ff", "#1b6e1b", "#0000ff", "#1b6e1b"]}
        barSize={10} catSize={6.8} tickSize={8.5} titleShift={18}
        brackets={[
          { x1: 0, x2: 1, y: 46.9, drop: 1.5, text: "***" },
          { x1: 2.3, x2: 3.25, y: 46.9, drop: 1.5, text: "***" },
          { x1: 0.02, x2: 3.18, y: 72.1, drop: 0, text: "" },
          { x1: 4.52, x2: 5.6, y: 72.1, drop: 0, text: "" },
          { x1: 1.6, x2: 5.06, y: 75, drop: 2.9, text: "***" },
        ]}
      />
      {/* O */}
      <BarPanel
        left={650} top={355} width={150} height={187}
        margin={{ top: 40, right: 10.7, bottom: 0, left: 43 }}
        xAxisHeight={30}
        xs={oX} cats={oCats} subs={oSubs} subDx={0} subDy={14}
        xDomain={[-0.53, 2.6]}
        yDomain={[-16, 10]} yTicks={[-10, 0, 10]}
        means={oMean} sems={oSem} subjects={oSubjects}
        colors={[PURPLE, "#1e6b4a", "#ffffff"]}
        barSize={13} catSize={8.8} tickSize={9.5} titleShift={18} zeroLine
        brackets={[
          { x1: 0, x2: 2, y: 10, drop: 0.5, text: "**" },
          { x1: 1, x2: 2, y: 7.8, drop: 0.5, text: "*" },
        ]}
      />
    </div>
  );
}
